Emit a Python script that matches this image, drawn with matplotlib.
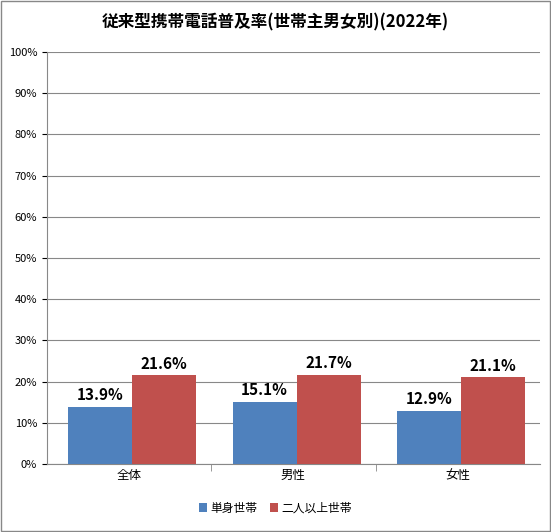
import numpy as np
import matplotlib.pyplot as plt
from matplotlib.patches import Rectangle

plt.rcParams['font.family'] = ['Noto Sans CJK JP', 'DejaVu Sans']

categories = ['全体', '男性', '女性']
single = [13.9, 15.1, 12.9]
multi = [21.6, 21.7, 21.1]
series_names = ['単身世帯', '二人以上世帯']

fig = plt.figure(figsize=(5.51, 5.32), dpi=100)
fig.patches.append(Rectangle((0.002, 0.002), 0.996, 0.996, transform=fig.transFigure,
                             fill=False, edgecolor='#888888', lw=1))
ax = fig.add_axes([0.085, 0.128, 0.895, 0.774])

x = np.arange(len(categories))
w = 0.39
b1 = ax.bar(x - w / 2 + 0.02, single, w, color='#4F81BD', label=series_names[0], zorder=3)
b2 = ax.bar(x + w / 2 + 0.02, multi, w, color='#C0504D', label=series_names[1], zorder=3)
for bars in (b1, b2):
    for b in bars:
        ax.text(b.get_x() + b.get_width() / 2, b.get_height() + 0.8, f'{b.get_height():.1f}%',
                ha='center', va='bottom', fontsize=11, fontweight='bold')

ax.set_xlim(-0.5, 2.5)
ax.set_ylim(0, 100)
ax.set_yticks(np.arange(0, 101, 10))
ax.set_yticklabels([f'{v}%' for v in range(0, 101, 10)], fontsize=8)
ax.yaxis.grid(True, color='#888888', lw=0.8, zorder=0)
ax.set_xticks(x)
ax.set_xticklabels(categories, fontsize=9)
ax.tick_params(axis='x', length=0)
ax.set_xticks([0.5, 1.5], minor=True)
ax.tick_params(axis='x', which='minor', length=5, direction='out', color='#888888')
for s in ['top', 'right']:
    ax.spines[s].set_visible(False)
for s in ['left', 'bottom']:
    ax.spines[s].set_color('#888888')

fig.text(0.5, 0.958, '従来型携帯電話普及率(世帯主男女別)(2022年)', ha='center', va='center',
         fontsize=12, fontweight='bold')
fig.legend(handles=[b1, b2], loc='center', bbox_to_anchor=(0.5, 0.045), ncol=2, frameon=False,
           fontsize=8.5, handlelength=0.7, handleheight=0.7, columnspacing=1.0, handletextpad=0.3)

fig.savefig('out.png', dpi=100)
